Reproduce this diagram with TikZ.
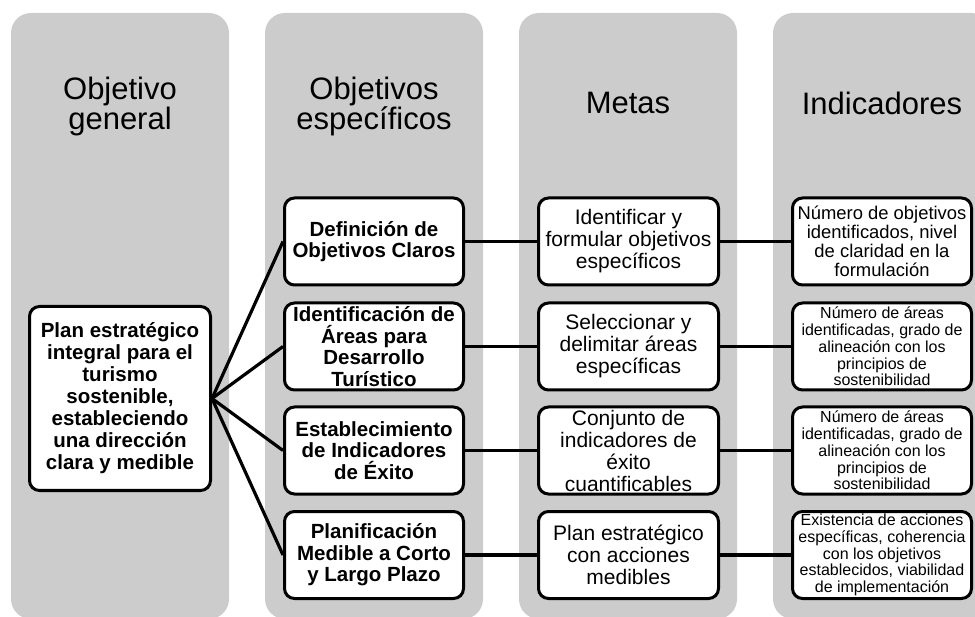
\documentclass[tikz,border=0pt]{standalone}
\usepackage{fontspec}
\setmainfont{Liberation Sans}

\begin{document}
\begin{tikzpicture}[x=1pt,y=-1pt,
  colbg/.style={fill=black!20, rounded corners=20pt},
  coltitle/.style={font=\fontsize{31}{30}\selectfont, align=center},
  box/.style={draw, line width=3pt, rounded corners=10pt, fill=white, align=center,
    inner sep=0pt, minimum width=179pt, minimum height=87pt},
  mainbox/.style={box, minimum width=181pt, minimum height=184pt, font=\bfseries\fontsize{20.5}{22}\selectfont},
  objbox/.style={box, font=\bfseries\fontsize{20.5}{21.5}\selectfont},
  metabox/.style={box, minimum width=180pt, font=\fontsize{21}{22}\selectfont},
  indbox/.style={box, font=\fontsize{16}{16.7}\selectfont},
  link/.style={line width=3.2pt}]
\useasboundingbox (0,0) rectangle (975,617);
\foreach \cx/\ty/\tit [count=\i] in {120/106/{Objetivo\\general}, 374/106/{Objetivos\\específicos}, 628/103/{Metas}, 882/103/{Indicadores}}{
  \fill[colbg] (\cx-109,13) rectangle (\cx+109,619);
  \node[coltitle] (t\i) at (\cx,\ty) {\tit};}
\node[mainbox] (plan) at (120,398.5) {Plan estratégico\\integral para el\\turismo\\sostenible,\\estableciendo\\una dirección\\clara y medible};
\node[objbox] (o1) at (374,241.5) {Definición de\\Objetivos Claros};
\node[objbox] (o2) at (374,346.5) {Identificación de\\Áreas para\\Desarrollo\\Turístico};
\node[objbox] (o3) at (374,450.5) {Establecimiento\\de Indicadores\\de Éxito};
\node[objbox] (o4) at (374,555) {Planificación\\Medible a Corto\\y Largo Plazo};
\node[metabox] (m1) at (628.5,241.5) {Identificar y\\formular objetivos\\específicos};
\node[metabox] (m2) at (628.5,346.5) {Seleccionar y\\delimitar áreas\\específicas};
\node[metabox] (m3) at (628.5,450.5) {Conjunto de\\indicadores de\\éxito\\cuantificables};
\node[metabox] (m4) at (628.5,555) {Plan estratégico\\con acciones\\medibles};
\node[indbox, font=\fontsize{18.4}{19}\selectfont] (i1) at (882,241.5) {Número de objetivos\\identificados, nivel\\de claridad en la\\formulación};
\node[indbox] (i2) at (882,346.5) {Número de áreas\\identificadas, grado de\\alineación con los\\principios de\\sostenibilidad};
\node[indbox] (i3) at (882,450.5) {Número de áreas\\identificadas, grado de\\alineación con los\\principios de\\sostenibilidad};
\node[indbox] (i4) at (882,555) {Existencia de acciones\\específicas, coherencia\\con los objetivos\\establecidos, viabilidad\\de implementación};
\foreach \i in {1,...,4}{
  \draw[link] (plan.east) -- (o\i.west);
  \draw[link] (o\i) -- (m\i);
  \draw[link] (m\i) -- (i\i);}
\end{tikzpicture}
\end{document}
